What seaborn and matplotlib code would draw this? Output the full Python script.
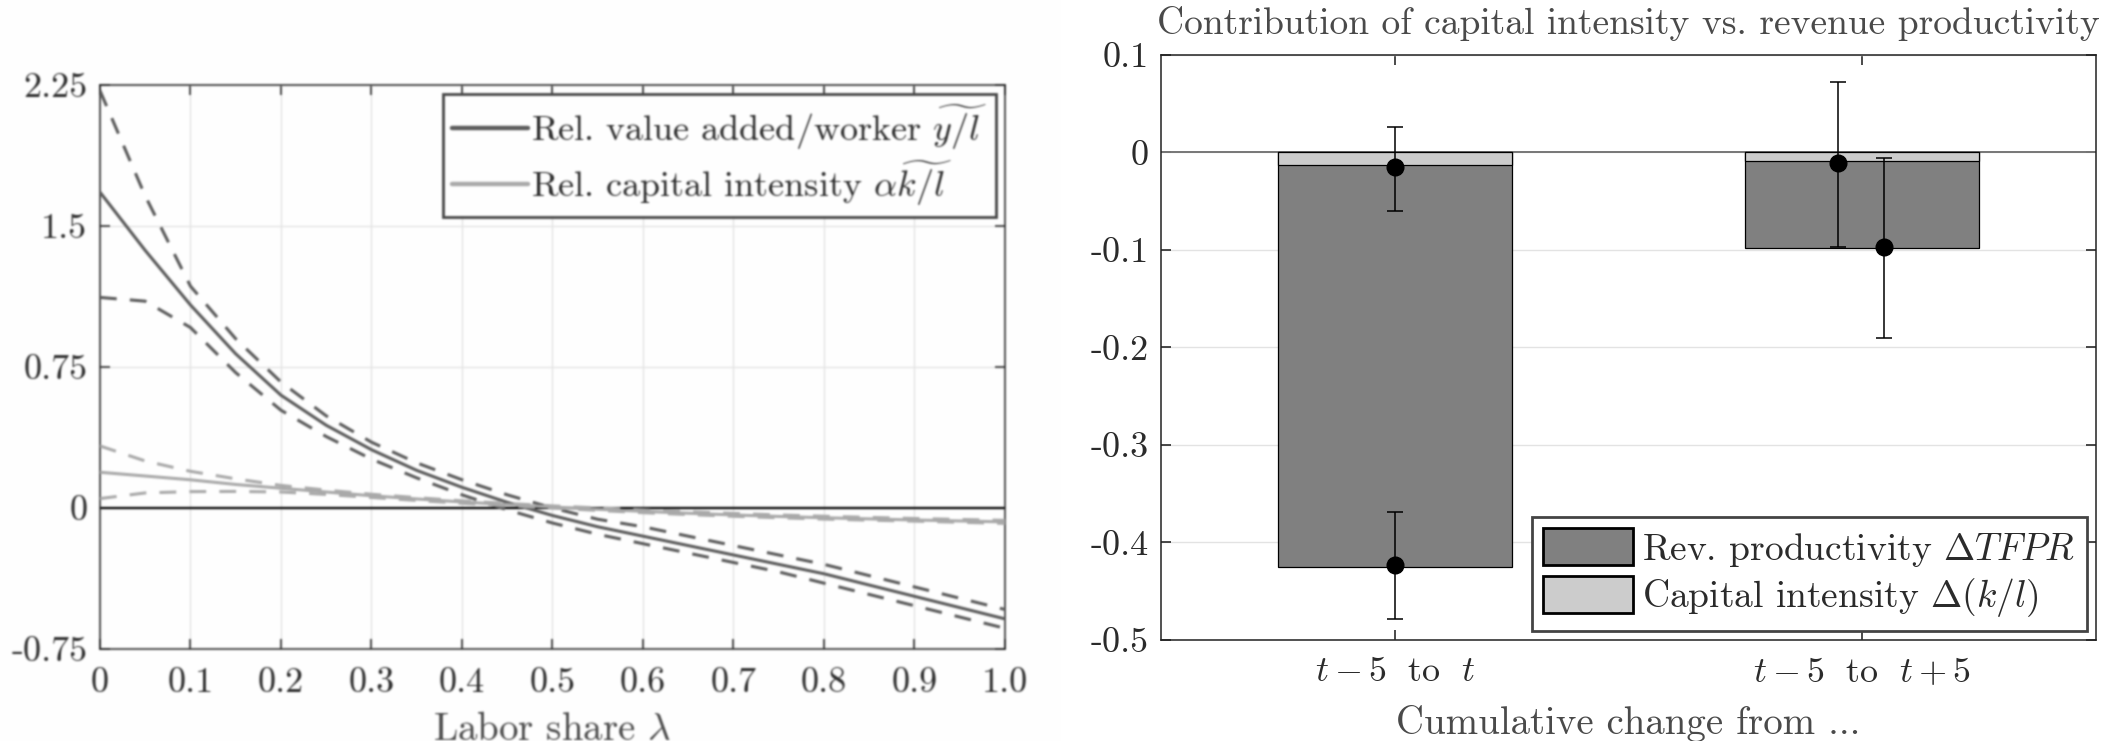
import numpy as np
import pandas as pd
import matplotlib
matplotlib.use("Agg")
import matplotlib.pyplot as plt
from matplotlib.lines import Line2D
from matplotlib.patches import Patch
import seaborn as sns

# ---------------- data: left panel (relative outcomes vs. labor share) ----------------
labor_share = [0.00, 0.05, 0.10, 0.15, 0.20, 0.25, 0.30, 0.35, 0.40, 0.45, 0.50,
               0.55, 0.60, 0.65, 0.70, 0.75, 0.80, 0.85, 0.90, 0.95, 1.00]

va_worker = [1.68, 1.37, 1.08, 0.82, 0.60, 0.44, 0.31, 0.20, 0.11, 0.03, -0.04,
             -0.10, -0.15, -0.20, -0.25, -0.30, -0.35, -0.41, -0.47, -0.53, -0.59]
va_worker_hi = [2.22, 1.66, 1.18, 0.90, 0.67, 0.49, 0.35, 0.24, 0.15, 0.07, 0.00,
                -0.06, -0.10, -0.15, -0.20, -0.25, -0.30, -0.36, -0.42, -0.48, -0.54]
va_worker_lo = [1.12, 1.10, 0.96, 0.72, 0.52, 0.38, 0.26, 0.16, 0.07, -0.01, -0.08,
                -0.14, -0.19, -0.24, -0.29, -0.34, -0.40, -0.46, -0.52, -0.58, -0.64]

cap_int = [0.19, 0.17, 0.15, 0.125, 0.105, 0.085, 0.065, 0.048, 0.032, 0.018, 0.005,
           -0.007, -0.018, -0.028, -0.037, -0.045, -0.052, -0.058, -0.064, -0.069, -0.074]
cap_int_hi = [0.33, 0.25, 0.195, 0.155, 0.12, 0.095, 0.073, 0.055, 0.038, 0.024, 0.011,
              0.000, -0.010, -0.020, -0.029, -0.037, -0.044, -0.050, -0.056, -0.061, -0.066]
cap_int_lo = [0.05, 0.08, 0.087, 0.088, 0.085, 0.072, 0.056, 0.040, 0.025, 0.012, 0.000,
              -0.013, -0.025, -0.035, -0.044, -0.052, -0.059, -0.065, -0.070, -0.076, -0.082]

left_xticks = [0, 0.1, 0.2, 0.3, 0.4, 0.5, 0.6, 0.7, 0.8, 0.9, 1.0]
left_xticklabels = ["0", "0.1", "0.2", "0.3", "0.4", "0.5", "0.6", "0.7", "0.8", "0.9", "1.0"]
left_yticks = [-0.75, 0, 0.75, 1.5, 2.25]
left_yticklabels = ["-0.75", "0", "0.75", "1.5", "2.25"]

# ---------------- data: right panel (decomposition of cumulative change) ----------------
periods = [r"$t-5\ \ \mathrm{to}\ \ t$", r"$t-5\ \ \mathrm{to}\ \ t+5$"]
tfpr_change = [-0.412, -0.089]
capint_change = [-0.013, -0.009]

capint_est = [-0.015, -0.011]
capint_lo = [-0.060, -0.097]
capint_hi = [0.026, 0.072]
tfpr_est = [-0.423, -0.097]
tfpr_lo = [-0.478, -0.190]
tfpr_hi = [-0.369, -0.006]

right_yticks = [-0.5, -0.4, -0.3, -0.2, -0.1, 0, 0.1]
right_yticklabels = ["-0.5", "-0.4", "-0.3", "-0.2", "-0.1", "0", "0.1"]

# ---------------- style ----------------
sns.set_theme(style="white")
plt.rcParams.update({
    "font.family": "cmr10",
    "mathtext.fontset": "cm",
    "axes.unicode_minus": False,
    "font.size": 26,
    "text.color": "#2b2b2b",
    "axes.labelcolor": "#4a4a4a",
    "xtick.color": "#2b2b2b",
    "ytick.color": "#2b2b2b",
})

DARK_LINE = "#5a5a5a"
LIGHT_LINE = "#a9a9a9"
DARK_BAR = "#808080"
LIGHT_BAR = "#cccccc"
GRID = "#e3e3e3"
TICK_FS = 26
LEG_FS = 26
LABEL_FS = 28
TITLE_FS = 27

fig = plt.figure(figsize=(21.22, 7.41), dpi=100)
ax1 = fig.add_axes([0.0471, 0.1242, 0.4265, 0.7611])
ax2 = fig.add_axes([0.5471, 0.1363, 0.4406, 0.7895])

# ---------------- left panel ----------------
dash = (0, (5.5, 4.3))
ax1.axhline(0, color="black", lw=1.6, zorder=2)
for y, c, ls in [
    (va_worker, DARK_LINE, "-"), (va_worker_hi, DARK_LINE, dash), (va_worker_lo, DARK_LINE, dash),
    (cap_int, LIGHT_LINE, "-"), (cap_int_hi, LIGHT_LINE, dash), (cap_int_lo, LIGHT_LINE, dash),
]:
    sns.lineplot(x=labor_share, y=y, ax=ax1, color=c, lw=2.2, linestyle=ls, zorder=3)

ax1.set_xlim(0, 1)
ax1.set_ylim(-0.75, 2.25)
ax1.set_xticks(left_xticks, left_xticklabels)
ax1.set_yticks(left_yticks, left_yticklabels)
ax1.grid(True, color=GRID, lw=1)
ax1.set_ylabel("")

h1 = [Line2D([], [], color=DARK_LINE, lw=3.2),
      Line2D([], [], color=LIGHT_LINE, lw=3.2)]
l1 = [r"Rel. value added/worker $\widetilde{y/l}$",
      r"Rel. capital intensity $\alpha\widetilde{k/l}$"]
leg1 = ax1.legend(h1, l1, loc="upper right", fontsize=LEG_FS, frameon=True, fancybox=False,
                  framealpha=1, edgecolor="#444444", handlelength=2.1, handletextpad=0.1,
                  labelspacing=0.2, borderpad=0.25, borderaxespad=0.25)
leg1.get_frame().set_linewidth(2)

# ---------------- right panel ----------------
totals = [a + b for a, b in zip(tfpr_change, capint_change)]
bar_df = pd.DataFrame({"period": periods, "total": totals, "capint": capint_change})

ax2.axhline(0, color="#777777", lw=1.4, zorder=1)
sns.barplot(data=bar_df, x="period", y="total", color=DARK_BAR, saturation=1, width=0.5,
            edgecolor="black", linewidth=0.9, ax=ax2, zorder=2)
sns.barplot(data=bar_df, x="period", y="capint", color=LIGHT_BAR, saturation=1, width=0.5,
            edgecolor="black", linewidth=0.9, ax=ax2, zorder=2)

# point estimates with confidence intervals (second period shown side by side)
offsets_cap = [0.0, -0.052]
offsets_tfpr = [0.0, 0.046]
for i in range(len(periods)):
    for off, est, lo, hi in [(offsets_cap[i], capint_est[i], capint_lo[i], capint_hi[i]),
                             (offsets_tfpr[i], tfpr_est[i], tfpr_lo[i], tfpr_hi[i])]:
        ax2.errorbar([i + off], [est], yerr=[[est - lo], [hi - est]], fmt="o", color="black",
                     ms=12, elinewidth=1.1, capsize=6, capthick=1.1, zorder=4)

ax2.set_xlim(-0.5, 1.5)
ax2.set_ylim(-0.5, 0.1)
ax2.set_yticks(right_yticks, right_yticklabels)
ax2.yaxis.grid(True, color=GRID, lw=1)
ax2.set_axisbelow(True)
ax2.set_ylabel("")
ax2.set_title("Contribution of capital intensity vs. revenue productivity", fontsize=TITLE_FS,
              pad=15, color="#4a4a4a")

h2 = [Patch(facecolor=DARK_BAR, edgecolor="black", lw=2),
      Patch(facecolor=LIGHT_BAR, edgecolor="black", lw=2)]
l2 = [r"Rev. productivity $\Delta TFPR$", r"Capital intensity $\Delta(k/l)$"]
leg2 = ax2.legend(h2, l2, loc="lower right", fontsize=27, frameon=True, fancybox=False,
                  framealpha=1, edgecolor="#444444", handlelength=2.4, handleheight=1.15,
                  handletextpad=0.25, labelspacing=0.2, borderpad=0.3, borderaxespad=0.25)
leg2.get_frame().set_linewidth(2)

for ax in (ax1, ax2):
    ax.tick_params(direction="in", length=7, width=1.2, top=True, right=True,
                   bottom=True, left=True, pad=9, labelsize=TICK_FS)
    for s in ax.spines.values():
        s.set_color("#222222")
        s.set_linewidth(1.1)
        s.set_visible(True)
ax1.tick_params(axis="x", pad=13)
ax2.tick_params(axis="x", pad=12)

ax1.set_xlabel(r"Labor share $\lambda$", fontsize=LABEL_FS, labelpad=10)
ax2.set_xlabel("Cumulative change from ...", fontsize=LABEL_FS, labelpad=12)

# render, then soften the left panel slightly (it is a rasterised, upscaled graphic)
fig.canvas.draw()
img = np.asarray(fig.canvas.buffer_rgba())[..., :3].astype(float) / 255.0
sigma = 1.0
r = np.arange(-3, 4)
k = np.exp(-r ** 2 / (2 * sigma ** 2))
k /= k.sum()
split = int(0.5 * img.shape[1])
part = img[:, :split, :]
padded = np.pad(part, ((3, 3), (3, 3), (0, 0)), mode="edge")
# separable Gaussian: horizontal pass, then vertical pass
hpass = sum(k[j] * padded[:, j:j + part.shape[1], :] for j in range(7))
vpass = sum(k[j] * hpass[j:j + part.shape[0], :, :] for j in range(7))
img[:, :split, :] = vpass
plt.imsave("out.png", np.clip(img, 0, 1))
